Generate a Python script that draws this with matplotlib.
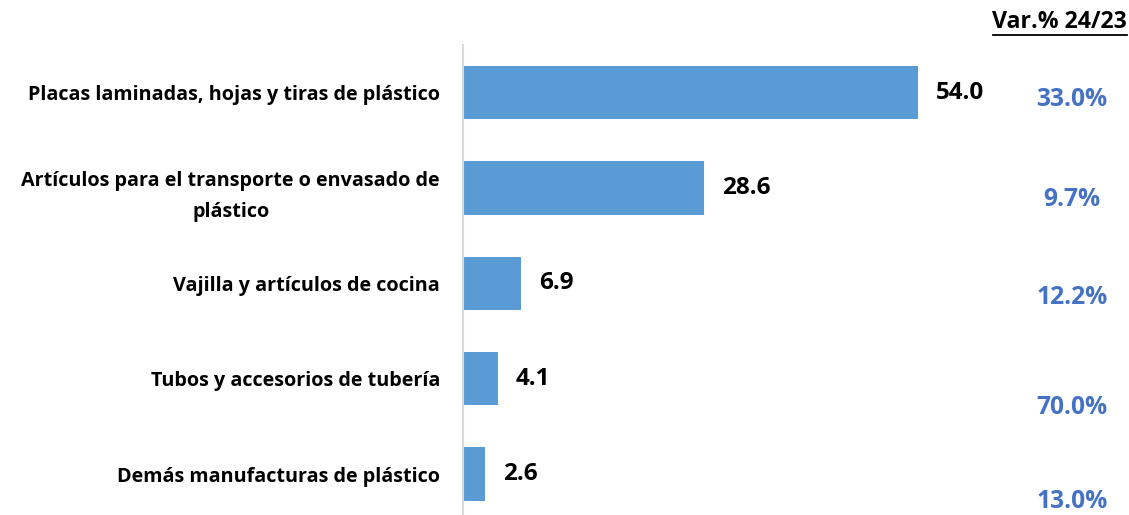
import matplotlib
matplotlib.use("Agg")
import matplotlib.pyplot as plt

categories = ["Placas laminadas, hojas y tiras de plástico",
              "Artículos para el transporte o envasado de\nplástico",
              "Vajilla y artículos de cocina",
              "Tubos y accesorios de tubería",
              "Demás manufacturas de plástico"]
values = [54.0, 28.6, 6.9, 4.1, 2.6]
var_labels = ["33.0%", "9.7%", "12.2%", "70.0%", "13.0%"]
var_y_px = [99, 200, 297, 407, 502]

plt.rcParams['font.family'] = ['Open Sans', 'DejaVu Sans']
W, H = 1129, 515
fig = plt.figure(figsize=(W/100, H/100), dpi=100)
ax_left = 463 / W
ax_right = 1129 / W
ax_top = 1 - 45 / H
ax = fig.add_axes([ax_left, 0, ax_right - ax_left, ax_top])
y = list(range(len(values)))
ax.barh(y, values, height=0.56, color="#5B9BD5")
ax.set_xlim(0, (1129 - 463) / 8.43)
ax.set_ylim(4.43, -0.5)
for s in ["top", "right", "bottom"]:
    ax.spines[s].set_visible(False)
ax.spines["left"].set_color("#D9D9D9")
ax.spines["left"].set_linewidth(1.5)
ax.set_xticks([])
ax.set_yticks(y)
ax.set_yticklabels(categories, fontsize=14.2, fontweight="bold", color="black", linespacing=1.75)
ax.tick_params(axis="y", length=0, pad=16.5)
for lab in ax.get_yticklabels():
    lab.set_horizontalalignment("right")
    lab.set_multialignment("center")
for yi, v in zip(y, values):
    ax.text(v + 2.1, yi, f"{v:.1f}", va="center", ha="left", fontsize=17.5, fontweight="bold", color="black")
for lab, py in zip(var_labels, var_y_px):
    fig.text(1072 / W, 1 - py / H, lab, ha="center", va="center", fontsize=17.7, fontweight="bold", color="#4472C4")
fig.text(1127 / W, 1 - 22 / H, "Var.% 24/23", ha="right", va="center", fontsize=16.7, fontweight="bold", color="black")
fig.add_artist(plt.Line2D([993 / W, 1127 / W], [1 - 35 / H, 1 - 35 / H], color="black", linewidth=1.3))
fig.savefig("out.png", dpi=100)
